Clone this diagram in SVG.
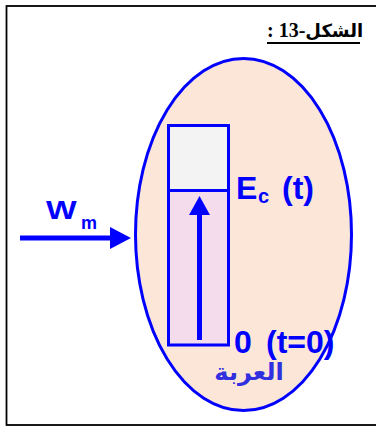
<svg xmlns="http://www.w3.org/2000/svg" width="376" height="428" viewBox="0 0 376 428">
<style>
.lbl{font-family:"Liberation Sans",Arial,sans-serif;font-weight:bold;fill:#0000ff}
.blue{fill:#0000ff}
</style>
<rect x="0" y="0" width="376" height="428" fill="#ffffff"/>
<rect x="6.5" y="6" width="375" height="419" fill="none" stroke="#000" stroke-width="1.8"/>
<g id="title">
<text x="267" y="37" font-family="'Liberation Serif','DejaVu Sans',serif" font-weight="bold" font-size="18" fill="#000"><tspan font-size="20">: 13-</tspan>الشكل</text>
<rect x="267" y="42" width="93" height="2" fill="#000"/>
</g>
<g id="car">
<ellipse cx="243.5" cy="234.5" rx="108" ry="176" fill="#fce6d8" stroke="#0000ff" stroke-width="3"/>
<text x="249" y="380" text-anchor="middle" font-family="'DejaVu Sans',sans-serif" font-weight="bold" font-size="24" fill="#3030e0">العربة</text>
</g>
<g id="tank">
<rect x="168.5" y="125.5" width="60" height="65" fill="#f3f3f3"/>
<rect x="168.5" y="190.5" width="60" height="154.5" fill="#f5dcec"/>
<rect x="168.5" y="125.5" width="60" height="219.5" fill="none" stroke="#0000ff" stroke-width="3"/>
<line x1="168.5" y1="190.5" x2="228.5" y2="190.5" stroke="#0000ff" stroke-width="3"/>
</g>
<g id="labels">
<text class="lbl" x="236" y="199" font-size="32">E</text>
<text class="lbl" x="258" y="203" font-size="20">c</text>
<text class="lbl" x="282" y="199" font-size="32">(t)</text>
<text class="lbl" x="234" y="353" font-size="32">0</text>
<text class="lbl" x="266" y="353" font-size="32">(t=0)</text>
<text class="lbl" transform="translate(46,219) scale(1.3,1)" x="0" y="0" font-size="25">W</text>
<text class="lbl" x="81" y="229" font-size="18">m</text>
</g>
<g id="connectors">
<rect x="197" y="212" width="5" height="128" class="blue"/>
<polygon points="189,215 210,215 199.5,196" class="blue"/>
<rect x="20" y="235.5" width="92" height="5" class="blue"/>
<polygon points="110,227 131,238 110,249" class="blue"/>
</g>
</svg>
